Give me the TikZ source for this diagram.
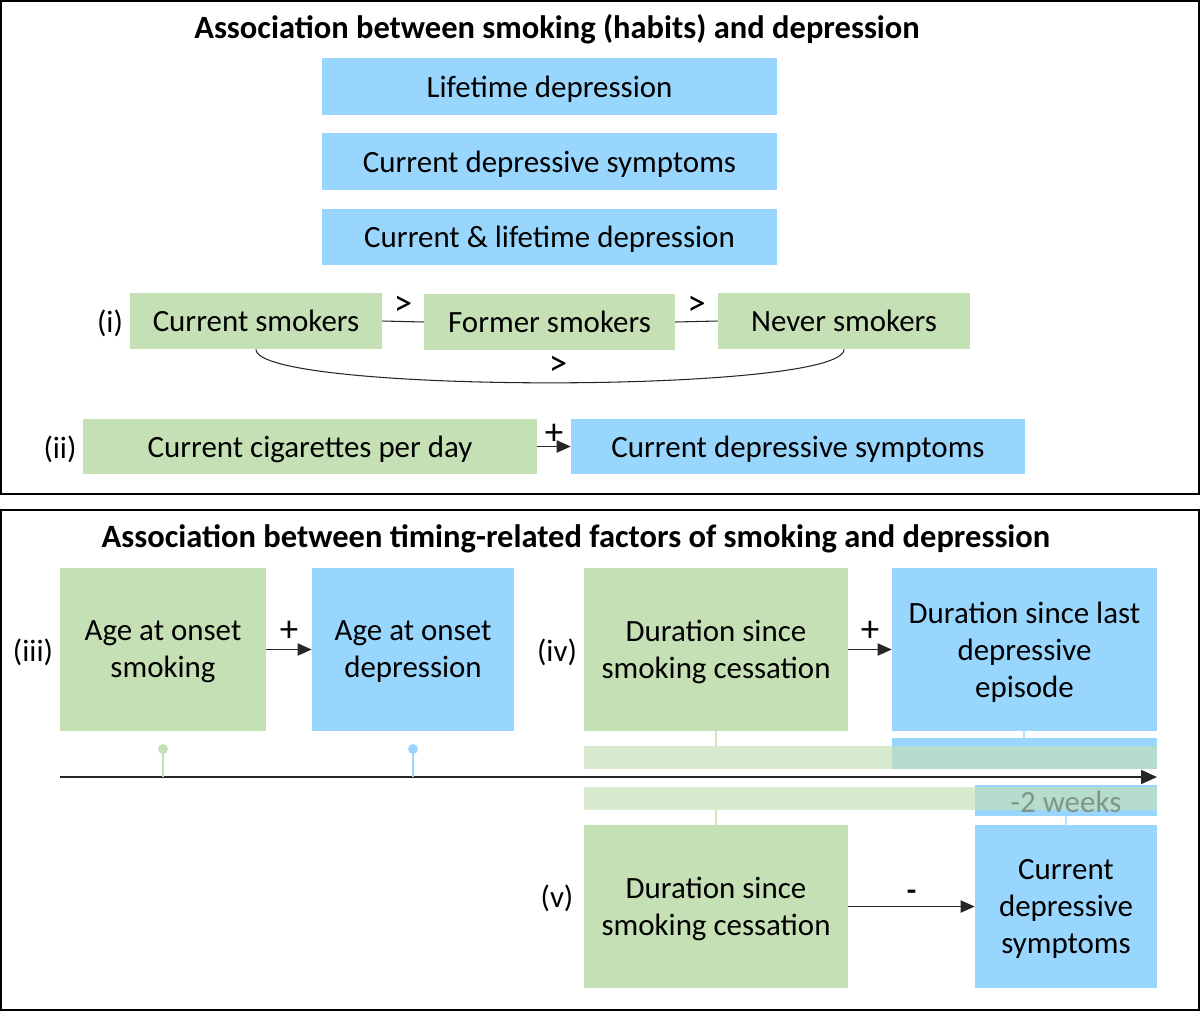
\documentclass[tikz,border=0pt]{standalone}
\usepackage{fontspec}
\setmainfont{Carlito}
\usetikzlibrary{arrows.meta}
\definecolor{gfill}{HTML}{C5E0B4}
\definecolor{bfill}{HTML}{99D6FE}
\definecolor{wk}{RGB}{128,150,135}
\tikzset{
  every node/.style={font=\fontsize{17.6}{21}\selectfont, inner sep=0pt},
  gbox/.style={fill=gfill, align=center, text depth=0pt},
  bbox/.style={fill=bfill, align=center, text depth=0pt},
  lab/.style={anchor=center},
  sym/.style={font=\fontsize{21}{24}\selectfont},
  frame/.style={draw=black, line width=0.9pt},
  conn/.style={draw=black!85, line width=0.6pt},
  arr/.style={conn, -{Triangle[length=8pt,width=7pt]}},
  ttl/.style={font=\fontsize{18.5}{22}\selectfont\bfseries}
}
\begin{document}
\begin{tikzpicture}[x=0.02cm,y=-0.02cm]
\useasboundingbox (0,0) rectangle (1200,1012);
% frames
\draw[frame] (1,1) rectangle (1199,494);
\draw[frame] (1,510) rectangle (1199,1010);
% titles
\node[ttl] (t1) at (557,29) {Association between smoking (habits) and depression};
\node[ttl] (t2) at (576,539) {Association between timing-related factors of smoking and depression};
% top blue boxes
\node[bbox, minimum width=9.1cm, minimum height=1.14cm] (l1) at (549.5,86.5) {Lifetime depression};
\node[bbox, minimum width=9.1cm, minimum height=1.14cm] (l2) at (549.5,161.5) {Current depressive symptoms};
\node[bbox, minimum width=9.1cm, minimum height=1.12cm] (l3) at (549.5,237) {Current \& lifetime depression};
% (i)
\node[lab] (li) at (110,323) {(i)};
\node[gbox, minimum width=5.04cm, minimum height=1.12cm] (cs) at (256,321) {Current smokers};
\node[gbox, minimum width=5.02cm, minimum height=1.12cm] (fs) at (549.5,322) {Former smokers};
\node[gbox, minimum width=5.04cm, minimum height=1.12cm] (ns) at (844,321) {Never smokers};
\draw[conn] (cs.east) -- (fs.west) node[midway, above=3pt, sym] (g1) {>};
\draw[conn] (fs.east) -- (ns.west) node[midway, above=3pt, sym] (g2) {>};
\draw[conn] (cs.south) .. controls (256,394) and (844,394) .. (ns.south);
\node[sym] (g3) at (558,366) {>};
% (ii)
\node[lab] (lii) at (60,449) {(ii)};
\node[gbox, minimum width=9.08cm, minimum height=1.1cm] (cpd) at (310,446.5) {Current cigarettes per day};
\node[bbox, minimum width=9.08cm, minimum height=1.1cm] (cds) at (798,446.5) {Current depressive symptoms};
\draw[arr] (cpd.east) -- (cds.west) node[midway, above=1pt, sym] (p0) {+};
% (iii)
\node[lab] (liii) at (33,652) {(iii)};
\node[gbox, minimum width=4.12cm, minimum height=3.26cm] (aos) at (163,649.5) {Age at onset\\smoking};
\node[bbox, minimum width=4.04cm, minimum height=3.26cm] (aod) at (413,649.5) {Age at onset\\depression};
\draw[arr] (aos.east) -- (aod.west) node[midway, above=4pt, sym] (p1) {+};
% (iv)
\node[lab] (liv) at (557,652) {(iv)};
\node[gbox, minimum width=5.28cm, minimum height=3.26cm] (dsc) at (716,649.5) {Duration since\\smoking cessation};
\node[bbox, minimum width=5.3cm, minimum height=3.26cm] (dle) at (1024.5,649.5) {Duration since last\\depressive\\episode};
\draw[arr] (dsc.east) -- (dle.west) node[midway, above=4pt, sym] (p2) {+};
% timeline bars
\fill[bfill] (892,738) rectangle (1157,769);
\fill[gfill, opacity=0.65] (584,746) rectangle (1157,769);
\draw[gfill!80!white, line width=0.6pt] (716,731) -- (716,746);
\draw[bfill!70!white, line width=0.6pt] (1024,731) -- (1024,738);
\fill[bfill] (975,785) rectangle (1157,816);
\fill[gfill, opacity=0.65] (584,787) rectangle (1157,810);
\node[text=wk] (wks) at (1066,802) {-2 weeks};
\draw[gfill!80!white, line width=0.6pt] (716,810) -- (716,825);
\draw[bfill!70!white, line width=0.6pt] (1066,816) -- (1066,825);
% timeline
\coordinate (ta) at (60,777);
\coordinate (tb) at (1157,777);
\draw[conn, -{Triangle[length=9pt,width=8pt]}] (ta) -- (tb);
% pins
\draw[gfill, line width=0.8pt] (163,749) -- (163,777);
\fill[gfill] (163,749) circle (5);
\draw[bfill, line width=0.8pt] (413,749) -- (413,777);
\fill[bfill] (413,749) circle (5);
% (v)
\node[lab] (lv) at (557,898) {(v)};
\node[gbox, minimum width=5.28cm, minimum height=3.26cm] (dsc2) at (716,906.5) {Duration since\\smoking cessation};
\node[bbox, minimum width=3.64cm, minimum height=3.26cm] (cds3) at (1066,906.5) {Current\\depressive\\symptoms};
\draw[arr] (dsc2.east) -- (cds3.west) node[midway, above=3pt] (m1) {\textbf{-}};
\end{tikzpicture}
\end{document}
